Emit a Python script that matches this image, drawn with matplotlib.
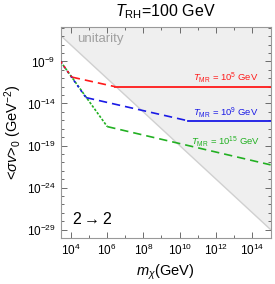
import matplotlib
matplotlib.use("Agg")
import matplotlib.pyplot as plt
import numpy as np

plt.rcParams['font.family'] = ['Liberation Sans', 'DejaVu Sans']
plt.rcParams['mathtext.fontset'] = 'custom'
plt.rcParams['mathtext.rm'] = 'Liberation Sans'
plt.rcParams['mathtext.it'] = 'Liberation Sans:italic'
plt.rcParams['mathtext.bf'] = 'Liberation Sans:bold'

# data (log10 values)
x_lim = [10**3.45, 1e15]
y_lim = [1e-30, 10**-4.9]
unit_logC = 1.0  # unitarity: <sv> = 10^C / m^2

# steep common part (log m, log sv)
steep_m = [3.45, 6.02]
steep_s = [-9.0, -16.75]

red_split = [4.07, -10.86]
red_dash_m = [4.07, 6.45]
red_dash_s = [-10.86, -12.0]
red_solid_m = [6.45, 15.0]
red_solid_s = [-12.0, -12.0]

blue_split = [4.85, -13.3]
blue_dash_m = [4.85, 10.44]
blue_dash_s = [-13.3, -16.05]
blue_solid_m = [10.44, 15.0]
blue_solid_s = [-16.05, -16.05]

green_dash_m = [6.02, 15.0]
green_dash_s = [-16.75, -21.3]

labels = [r"$T_{\rm MR}$ = 10$^5$ GeV", r"$T_{\rm MR}$ = 10$^9$ GeV", r"$T_{\rm MR}$ = 10$^{15}$ GeV"]
label_pos = [(14.35, -10.95), (14.35, -15.1), (14.4, -18.5)]

xticks = [1e4, 1e6, 1e8, 1e10, 1e12, 1e14]
xticklabels = [r"10$^{4}$", r"10$^{6}$", r"10$^{8}$", r"10$^{10}$", r"10$^{12}$", r"10$^{14}$"]
yticks = [1e-29, 1e-24, 1e-19, 1e-14, 1e-9]
yticklabels = [r"10$^{-29}$", r"10$^{-24}$", r"10$^{-19}$", r"10$^{-14}$", r"10$^{-9}$"]

RED = '#ff1a1a'
BLUE = '#1a1ae6'
GREEN = '#22b022'

fig = plt.figure(figsize=(2.75, 2.84), dpi=100)
ax = fig.add_axes([0.22, 0.162, 0.764, 0.743])
ax.set_xscale('log')
ax.set_yscale('log')

# unitarity region
mm = np.logspace(3.0, 15.5, 50)
uu = 10**unit_logC / mm**2
ax.fill_between(mm, uu, 1e0, color='#efefef', zorder=0, lw=0)
ax.plot(mm, uu, color='#d0d0d0', lw=1.0, zorder=1)
ax.text(10**4.35, 10**-6.35, "unitarity", color='#a0a0a0', fontsize=9.5, ha='left', va='center')

def P(a):
    return [10**v for v in a]

# steep parts
ax.plot(P(steep_m), P(steep_s), color=GREEN, lw=1.2, dashes=(1.5, 1.0), zorder=3)
bm = [steep_m[0], blue_split[0]]; bs = [steep_s[0], blue_split[1]]
ax.plot(P(bm), P(bs), color=BLUE, lw=1.2, dashes=(1.5, 2.0), zorder=4)
rm = [steep_m[0], red_split[0]]; rs = [steep_s[0], red_split[1]]
ax.plot(P(rm), P(rs), color=RED, lw=1.2, dashes=(1.5, 2.0), dash_capstyle='butt', zorder=5)

# red
ax.plot(P(red_dash_m), P(red_dash_s), color=RED, lw=1.2, dashes=(5, 3), zorder=3)
ax.plot(P(red_solid_m), P(red_solid_s), color=RED, lw=1.3, zorder=3)
# blue
ax.plot(P(blue_dash_m), P(blue_dash_s), color=BLUE, lw=1.2, dashes=(5, 3), zorder=3)
ax.plot(P(blue_solid_m), P(blue_solid_s), color=BLUE, lw=1.3, zorder=3)
# green
ax.plot(P(green_dash_m), P(green_dash_s), color=GREEN, lw=1.2, dashes=(5, 3), zorder=3)

for lab, (lx, ly), c in zip(labels, label_pos, [RED, BLUE, GREEN]):
    ax.text(10**lx, 10**ly, lab, color=c, fontsize=6.8, ha='right', va='center')

ax.text(10**4.1, 10**-27.8, r"2$\rightarrow$2", fontsize=11.5, ha='left', va='center')

ax.set_xlim(x_lim)
ax.set_ylim(y_lim)
ax.set_xticks(xticks)
ax.set_xticklabels(xticklabels)
ax.set_xticks([10.0**k for k in range(4, 16)], minor=True)
ax.xaxis.set_minor_formatter(matplotlib.ticker.NullFormatter())
ax.set_yticks(yticks)
ax.set_yticklabels(yticklabels)
ax.set_yticks([10.0**k for k in range(-30, -4)], minor=True)
ax.yaxis.set_minor_formatter(matplotlib.ticker.NullFormatter())
ax.tick_params(which='both', direction='in', top=True, right=True, labelsize=8.5, color='#555555')
ax.tick_params(which='major', length=4, width=0.6)
ax.tick_params(which='minor', length=2.2, width=0.6)
for s in ax.spines.values():
    s.set_color('#999999'); s.set_linewidth(0.8)

ax.set_xlabel(r"$m_\chi$(GeV)", fontsize=10.5, labelpad=3)
ax.set_ylabel(r"<$\sigma v$>$_0$ (GeV$^{-2}$)", fontsize=10.5, labelpad=2)
fig.text(0.6, 0.958, r"$T_{\rm RH}$=100 GeV", fontsize=11.5, ha='center', va='center')

fig.savefig("out.png", dpi=100)
